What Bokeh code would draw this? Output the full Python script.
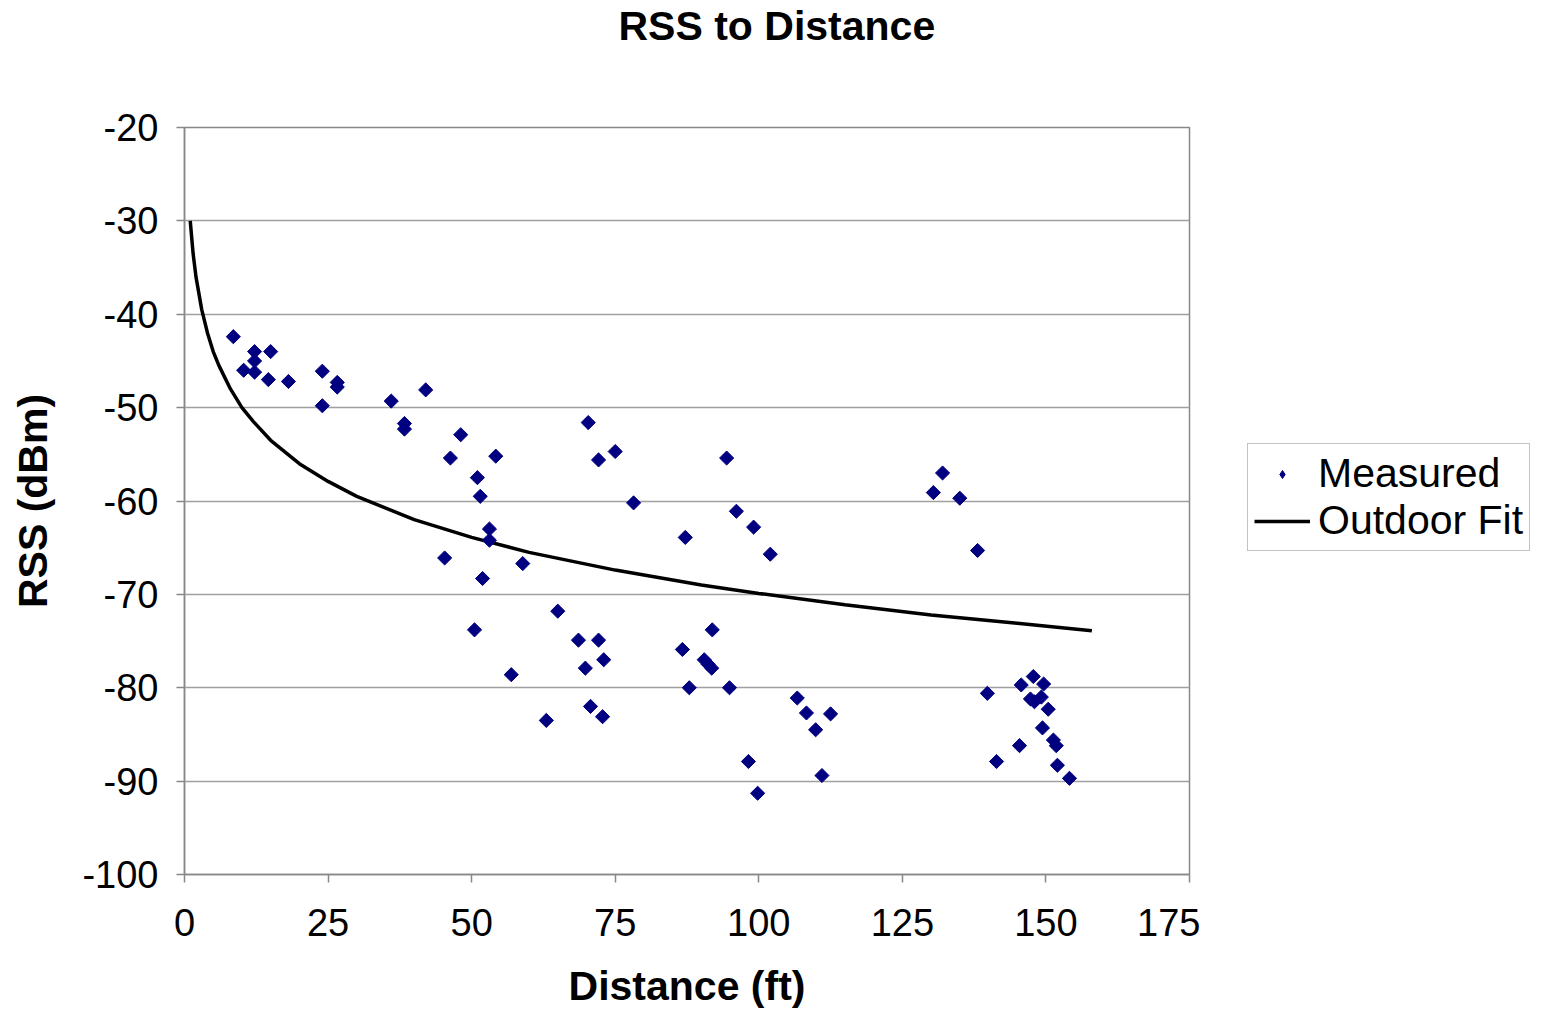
import math
from bokeh.plotting import figure
from bokeh.layouts import row
from bokeh.models import Range1d, FixedTicker, Legend, LegendItem, Title
from bokeh.embed import file_html
from bokeh.resources import INLINE

# Measured points (distance ft, RSS dBm)
meas_x = [8.5, 10.3, 12.2, 12.2, 12.2, 15.0, 14.6, 18.1, 24.0, 24.0, 26.6, 26.6,
          36.0, 38.3, 38.3, 42.0, 48.1, 46.3, 54.2, 51.0, 51.5, 53.1, 53.1, 45.3,
          58.9, 51.9, 50.5, 56.9, 63.0, 65.0, 68.6, 72.1, 69.8, 73.0, 70.7, 72.8,
          70.3, 72.1, 75.0, 78.2, 87.2, 94.4, 96.1, 99.1, 102.0, 86.7, 91.9, 87.9,
          90.5, 91.2, 91.8, 94.9, 98.2, 99.8, 106.7, 108.3, 112.5, 109.9, 111.0,
          130.4, 132.0, 135.0, 138.1, 139.8, 141.4, 145.7, 147.8, 149.6, 147.3,
          149.2, 148.0, 150.4, 145.4, 149.4, 151.3, 151.8, 152.0, 154.1]
meas_y = [-42.4, -46.0, -44.0, -45.0, -46.2, -44.0, -47.0, -47.2, -46.1, -49.8, -47.3, -47.8,
          -49.3, -51.7, -52.3, -48.1, -52.9, -55.4, -55.2, -57.5, -59.5, -63.0, -64.2, -66.1,
          -66.7, -68.3, -73.8, -78.6, -83.5, -71.8, -74.9, -74.9, -77.9, -77.0, -82.0, -83.1,
          -51.6, -55.6, -54.7, -60.2, -63.9, -55.4, -61.1, -62.8, -65.7, -75.9, -73.8, -80.0,
          -77.0, -77.5, -77.9, -80.0, -87.9, -91.3, -81.1, -82.7, -82.8, -84.5, -89.4,
          -59.1, -57.0, -59.7, -65.3, -80.6, -87.9, -79.7, -78.8, -79.6, -81.2,
          -81.0, -81.5, -82.3, -86.2, -84.3, -85.6, -86.2, -88.3, -89.7]

# Outdoor fit curve
fit_x = [1, 1.5, 2, 3, 4, 5, 6, 8, 10, 12, 15, 20, 25, 30, 40, 50, 60, 75, 90,
         100, 115, 130, 145, 158]
fit_y = [-30.0, -33.5, -36.0, -39.5, -42.0, -44.0, -45.5, -48.0, -50.0, -51.5,
         -53.5, -56.0, -57.9, -59.5, -62.0, -63.9, -65.5, -67.4, -69.0, -69.9,
         -71.1, -72.2, -73.1, -73.9]

x_ticks = [0, 25, 50, 75, 100, 125, 150, 175]
y_ticks = [-20, -30, -40, -50, -60, -70, -80, -90, -100]

NAVY = "#000080"

p = figure(width=1200, height=1011, output_backend="svg", toolbar_location=None,
           title=None,
           x_range=Range1d(0, 175), y_range=Range1d(-100, -20),
           min_border_left=184, min_border_right=11, min_border_top=0,
           min_border_bottom=135)
p.background_fill_color = "white"
p.border_fill_color = "white"
p.outline_line_color = "#888888"
p.outline_line_width = 1.5

spacer = Title(text="\u00a0", text_font_size="69px", standoff=0)
p.add_layout(spacer, "above")
title = Title(text="RSS to Distance", align="left", offset=434,
              text_font="Liberation Sans", text_font_style="bold",
              text_font_size="41px", text_color="black", standoff=0)
p.add_layout(title, "above")

p.line(fit_x, fit_y, line_color="black", line_width=3.5)
p.scatter(meas_x, meas_y, marker="square", size=10, angle=math.pi / 4,
          fill_color=NAVY, line_color=NAVY)

for ax in (p.xaxis[0], p.yaxis[0]):
    ax.axis_line_color = "#888888"
    ax.axis_line_width = 1.5
    ax.major_tick_line_color = "#888888"
    ax.major_tick_line_width = 1.5
    ax.major_tick_out = 8
    ax.major_tick_in = 0
    ax.minor_tick_line_color = None
    ax.major_label_text_font = "Liberation Sans"
    ax.major_label_text_font_size = "38px"
    ax.major_label_text_color = "black"
    ax.axis_label_text_font = "Liberation Sans"
    ax.axis_label_text_font_style = "bold"
    ax.axis_label_text_font_size = "41px"
    ax.axis_label_text_color = "black"

p.xaxis.ticker = FixedTicker(ticks=x_ticks)
p.yaxis.ticker = FixedTicker(ticks=y_ticks)
p.xaxis.major_label_overrides = {t: str(t) for t in x_ticks}
p.yaxis.major_label_overrides = {t: str(t) for t in y_ticks}
p.xaxis.axis_label = "Distance (ft)"
p.yaxis.axis_label = "RSS (dBm)"
p.xaxis.major_label_standoff = 26
p.yaxis.major_label_standoff = 18
p.xaxis.axis_label_standoff = 24
p.yaxis.axis_label_standoff = 23

p.xgrid.grid_line_color = None
p.ygrid.grid_line_color = "#a0a0a0"
p.ygrid.grid_line_width = 1.5

# Legend panel (separate figure to the right of the chart); its glyph
# renderers hold one point outside the visible range so only the keys show.
q = figure(width=345, height=1011, output_backend="svg", toolbar_location=None,
           title=None, x_axis_location=None, y_axis_location=None,
           x_range=Range1d(0, 1), y_range=Range1d(0, 1), min_border=0)
q.outline_line_color = None
q.xgrid.grid_line_color = None
q.ygrid.grid_line_color = None
lr_s = q.scatter([-5], [-5], marker="diamond", size=21, fill_color=NAVY, line_color=NAVY)
lr_l = q.line([-5, -4], [-5, -5], line_color="black", line_width=3.5)

legend = Legend(items=[LegendItem(label="Measured", renderers=[lr_s]),
                       LegendItem(label="Outdoor Fit", renderers=[lr_l])],
                location=(47, 323))
legend.label_text_font = "Liberation Sans"
legend.label_text_font_size = "41px"
legend.label_text_color = "black"
legend.border_line_color = "#888888"
legend.border_line_width = 1.5
legend.padding = 6
legend.spacing = 0
legend.margin = 0
legend.glyph_width = 56
legend.label_standoff = 8
legend.background_fill_alpha = 1
q.add_layout(legend, "center")

page = row(p, q, spacing=0)
open("out.html", "w").write(file_html(page, INLINE))
